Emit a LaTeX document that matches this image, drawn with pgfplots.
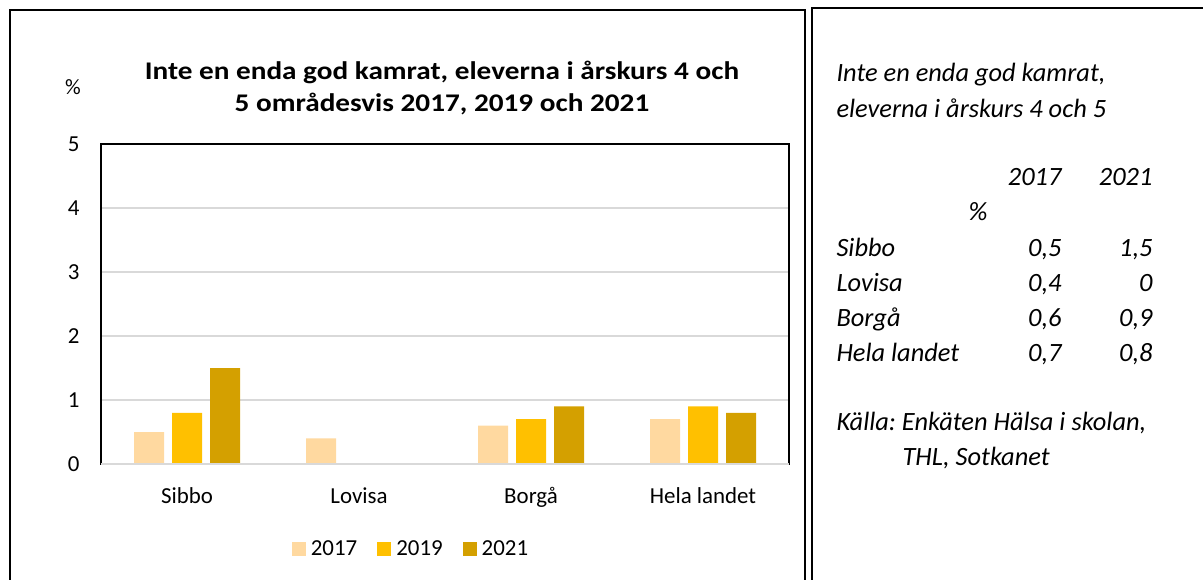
\documentclass[border=0pt]{standalone}
\usepackage{pgfplots}
\pgfplotsset{compat=1.18}
\usepackage{fontspec}
\setmainfont{Carlito}
\newfontfamily\titlefont{Carlito}[FakeStretch=1.15]
\definecolor{c17}{HTML}{FFD9A0}
\definecolor{c19}{HTML}{FFC000}
\definecolor{c21}{HTML}{D4A000}
\definecolor{gridc}{HTML}{D9D9D9}
\frenchspacing
\begin{document}
\begin{tikzpicture}
\path[use as bounding box] (0bp,0bp) rectangle (1203bp,-580bp);
% panels
\draw[line width=1.5bp] (10bp,-700bp) -- (10bp,-10bp) -- (805bp,-10bp) -- (805bp,-700bp);
\draw[line width=1.5bp] (812bp,-700bp) -- (812bp,-8bp) -- (1210bp,-8bp);
% title and unit
\node[font=\titlefont\fontsize{25.5}{32}\selectfont\bfseries, align=center] at (442bp,-88bp)
  {Inte en enda god kamrat, eleverna i årskurs 4 och\\5 områdesvis 2017, 2019 och 2021};
\node[font=\fontsize{22}{26}\selectfont] at (73bp,-87bp) {\%};
\begin{axis}[
  at={(101bp,-464bp)}, anchor=south west,
  width=688bp, height=320bp, scale only axis,
  ybar=8bp, bar width=30bp,
  xmin=-0.5, xmax=3.5, ymin=0, ymax=5,
  xtick={0,1,2,3}, xticklabels={Sibbo,Lovisa,Borgå,Hela landet},
  ytick={0,1,2,3,4,5},
  major tick length=0pt,
  ymajorgrids, grid style={gridc, line width=1.3bp},
  axis line style={black, line width=1.3bp},
  tick label style={font=\fontsize{23}{27}\selectfont},
  /pgf/number format/assume math mode=true,
  yticklabel style={xshift=-18bp},
  xticklabel style={yshift=-20bp},
  legend columns=3,
  legend style={draw=none, fill=none, at={(0.4506,-0.2656)}, anchor=center,
    font=\fontsize{23}{27}\selectfont,
    /tikz/every odd column/.append style={column sep=3bp},
    /tikz/every even column/.append style={column sep=18bp}},
  legend image code/.code={\fill[#1] (0bp,-7bp) rectangle (14bp,7bp);},
  clip=false,
]
\addplot[fill=c17, draw=none] coordinates {(0,0.5) (1,0.4) (2,0.6) (3,0.7)};
\addplot[fill=c19, draw=none] coordinates {(0,0.8) (1,0) (2,0.7) (3,0.9)};
\addplot[fill=c21, draw=none] coordinates {(0,1.5) (1,0) (2,0.9) (3,0.8)};
\legend{2017,2019,2021}
\draw[gridc, line width=2bp] (axis cs:-0.5,0) -- (axis cs:3.5,0);
\end{axis}
% right panel text
\begin{scope}[font=\fontsize{26.5}{32}\selectfont\itshape]
\node[anchor=base west] at (833bp,-81bp) {Inte en enda god kamrat,};
\node[anchor=base west] at (833bp,-117bp) {eleverna i årskurs 4 och 5};
\node[anchor=base east] at (1065bp,-185bp) {2017};
\node[anchor=base east] at (1156bp,-185bp) {2021};
\node[anchor=base] at (978bp,-220bp) {\%};
\node[anchor=base west] at (833bp,-256bp) {Sibbo};
\node[anchor=base east] at (1065bp,-256bp) {0,5};
\node[anchor=base east] at (1156bp,-256bp) {1,5};
\node[anchor=base west] at (833bp,-291bp) {Lovisa};
\node[anchor=base east] at (1065bp,-291bp) {0,4};
\node[anchor=base east] at (1156bp,-291bp) {0};
\node[anchor=base west] at (833bp,-326bp) {Borgå};
\node[anchor=base east] at (1065bp,-326bp) {0,6};
\node[anchor=base east] at (1156bp,-326bp) {0,9};
\node[anchor=base west] at (833bp,-361bp) {Hela landet};
\node[anchor=base east] at (1065bp,-361bp) {0,7};
\node[anchor=base east] at (1156bp,-361bp) {0,8};
\node[anchor=base west] at (833bp,-430bp) {Källa: Enkäten Hälsa i skolan,};
\node[anchor=base west] at (899bp,-465bp) {THL, Sotkanet};
\end{scope}
\end{tikzpicture}
\end{document}
